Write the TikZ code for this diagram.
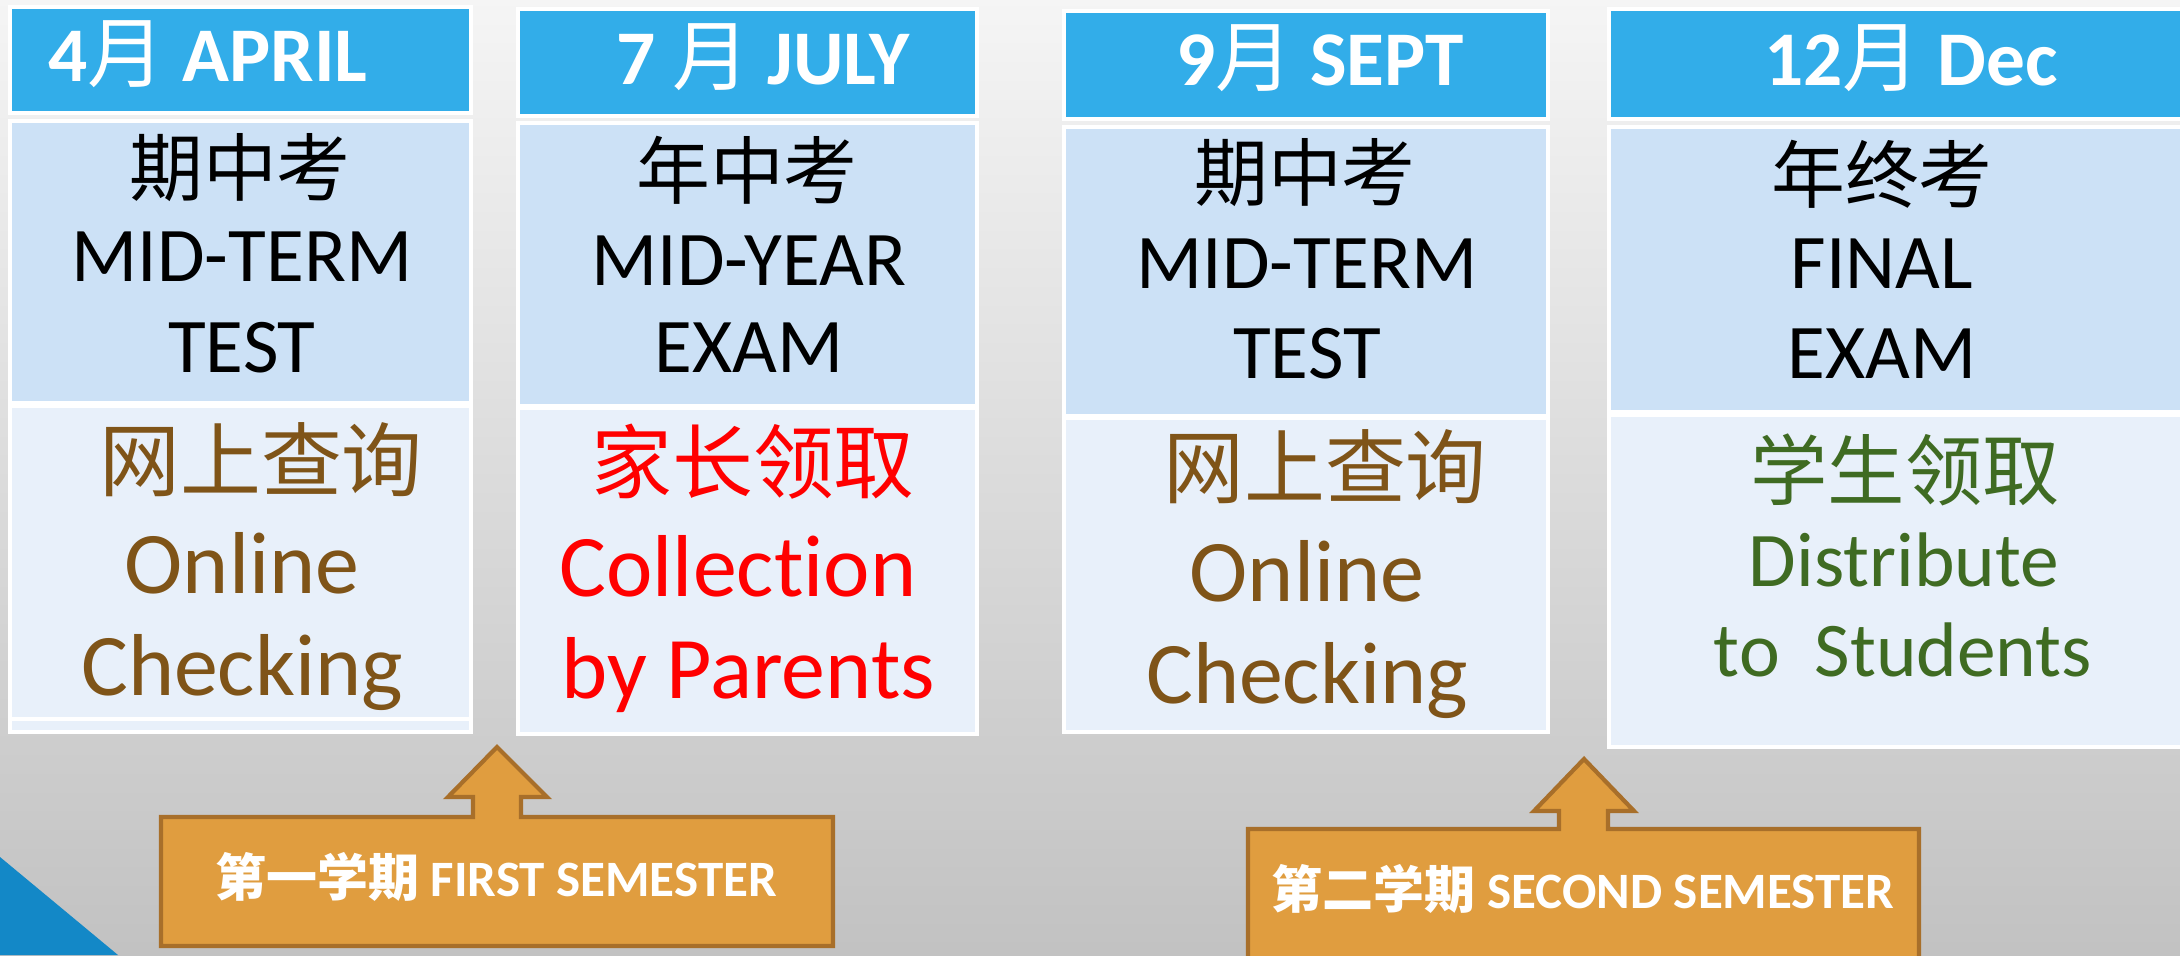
\documentclass[tikz,border=0pt]{standalone}
\usepackage{fontspec}
\setmainfont{Carlito}[Ligatures=NoCommon]
\newfontfamily\cjk{Noto Sans CJK SC}
\usepackage{xcolor}
\definecolor{headblue}{HTML}{32ADE9}
\definecolor{midblue}{HTML}{CCE1F6}
\definecolor{lowblue}{HTML}{E8F0FA}
\definecolor{resbrown}{HTML}{7F5418}
\definecolor{resgreen}{HTML}{3F6B22}
\definecolor{semorange}{HTML}{E09D3F}
\definecolor{semedge}{HTML}{A86F2A}
\definecolor{cornerblue}{HTML}{1388C7}
\tikzset{
	headbox/.style={fill=headblue,draw=white,line width=1pt},
	midbox/.style={fill=midblue,draw=white,line width=1pt},
	lowbox/.style={fill=lowblue,draw=white,line width=1pt},
	month/.style={anchor=base,text=white,font=\bfseries\fontsize{22}{26}\selectfont},
	examen/.style={anchor=base,font=\fontsize{22}{26}\selectfont},
	examzh/.style={font=\cjk\fontsize{21}{24}\selectfont},
	resen/.style={anchor=base,font=\fontsize{25}{30}\selectfont},
	reszh/.style={font=\cjk\fontsize{23}{27}\selectfont},
	semester/.style={fill=semorange,draw=semedge,line width=1.2pt},
	semtext/.style={anchor=base,text=white,font=\bfseries\fontsize{14.5}{17}\selectfont},
}

\begin{document}
\begin{tikzpicture}[x=0.01cm,y=-0.01cm]
				\useasboundingbox (0,0) rectangle (2180,955);
				\clip (0,0) rectangle (2180,955);
				\shade[top color=black!4,bottom color=black!24] (0,0) rectangle (2180,955);
				\fill[cornerblue] (0,857) -- (118,955) -- (0,955) -- cycle;
				% columns
				\draw[headbox] (10,7) rectangle (471,113);
				\draw[midbox] (10,121) rectangle (471,403);
				\draw[lowbox] (10,406) rectangle (471,732);
				\draw[white,line width=1pt] (10,719) -- (471,719);
				\draw[headbox] (518,9) rectangle (977,116);
				\draw[midbox] (518,123) rectangle (977,406);
				\draw[lowbox] (518,408) rectangle (977,734);
				\draw[headbox] (1064,11) rectangle (1548,119);
				\draw[midbox] (1064,127) rectangle (1548,416);
				\draw[lowbox] (1064,418) rectangle (1548,732);
				\draw[headbox] (1609,9) rectangle (2200,119);
				\draw[midbox] (1609,127) rectangle (2200,412);
				\draw[lowbox] (1609,415) rectangle (2200,747);
				\node(apr) at (208,82)[month]{4{\cjk\mdseries 月} APRIL};
				\node(jul) at (763,85)[month]{7 {\cjk\mdseries 月} JULY};
				\node(sep) at (1320,86)[month]{9{\cjk\mdseries 月} SEPT};
				\node(dec) at (1911,86)[month]{12{\cjk\mdseries 月} Dec};
				\node(aprzh) at (240,168)[examzh]{期中考};
				\node(aprl1) at (242,282)[examen]{MID-TERM};
				\node(aprl2) at (242,372)[examen]{TEST};
				\node(julzh) at (747,170)[examzh]{年中考};
				\node(jull1) at (749,285)[examen]{MID-YEAR};
				\node(jull2) at (749,373)[examen]{EXAM};
				\node(sepzh) at (1305,173)[examzh]{期中考};
				\node(sepl1) at (1307,288)[examen]{MID-TERM};
				\node(sepl2) at (1307,378)[examen]{TEST};
				\node(deczh) at (1882,174)[examzh]{年终考};
				\node(decl1) at (1882,288)[examen]{FINAL};
				\node(decl2) at (1882,378)[examen]{EXAM};
				\node(aprres) at (261,460)[reszh,text=resbrown]{网上查询};
				\node(aprr1) at (242,593)[resen,text=resbrown]{Online};
				\node(aprr2) at (242,695)[resen,text=resbrown]{Checking};
				\node(julres) at (753,462)[reszh,text=red]{家长领取};
				\node(julr1) at (738,596)[resen,text=red]{Collection};
				\node(julr2) at (748,698)[resen,text=red]{by Parents};
				\node(sepres) at (1325,467)[reszh,text=resbrown]{网上查询};
				\node(sepr1) at (1307,601)[resen,text=resbrown]{Online};
				\node(sepr2) at (1307,703)[resen,text=resbrown]{Checking};
				\node(decres) at (1905,470)[reszh,text=resgreen,font=\cjk\fontsize{22}{26}\selectfont]{学生领取};
				\node(decr1) at (1904,586)[examen,text=resgreen]{Distribute};
				\node(decr2) at (1903,676)[examen,text=resgreen]{to\ \ Students};
				% semesters
				\draw[semester] (161,817) -- (473,817) -- (473,797) -- (448,797) -- (497,747) -- (547,797) -- (521,797) -- (521,817) -- (833,817) -- (833,946) -- (161,946) -- cycle;
				\draw[semester] (1248,829) -- (1559,829) -- (1559,811) -- (1534,811) -- (1584,759) -- (1634,811) -- (1608,811) -- (1608,829) -- (1919,829) -- (1919,975) -- (1248,975) -- cycle;
				\node(sem1) at (496,896)[semtext]{{\cjk 第一学期} FIRST SEMESTER};
				\node(sem2) at (1583,908)[semtext]{{\cjk 第二学期} SECOND SEMESTER};
\end{tikzpicture}
\end{document}
